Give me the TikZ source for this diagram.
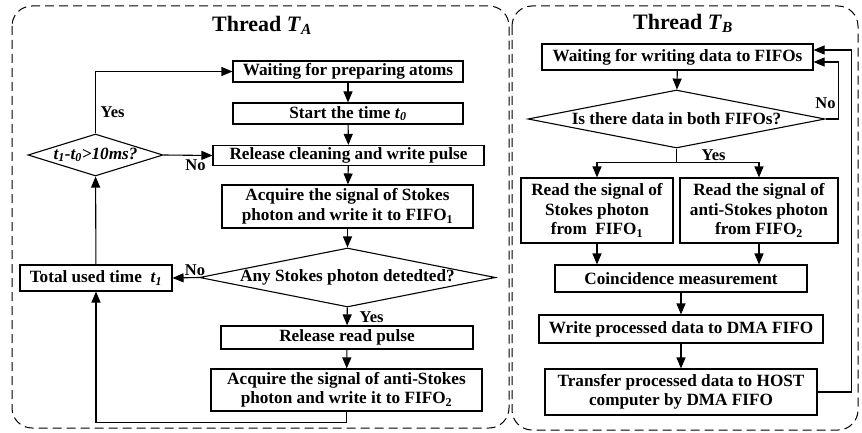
\documentclass[tikz,border=0pt]{standalone}
\usepackage{fontspec}
\setmainfont{Liberation Serif}
\usetikzlibrary{shapes.geometric,arrows.meta,calc}

\newcommand{\sub}[1]{\textsubscript{#1}}
\newcommand{\itsub}[2]{\textit{#1}\textsubscript{\itshape #2}}

\begin{document}
\begin{tikzpicture}[
    x=1pt,y=-1pt,
	box/.style={draw, line width=1.1pt, minimum height=#1, align=center, inner sep=0},
	box/.default=21pt,
	decision/.style={draw, line width=1.1pt, diamond, inner sep=0, aspect=5},
	lbl/.style={font=\bfseries\fontsize{16.5}{18}\selectfont, inner sep=1pt},
	thread/.style={draw, dash pattern=on 9pt off 5pt, line width=1pt, rounded corners=20pt},
	flow/.style={-{Triangle[length=11pt,width=9pt]}, line width=1.1pt},
	every node/.style={font=\bfseries\fontsize{17.2}{19.5}\selectfont}
]
\useasboundingbox (0,0) rectangle (862,433);

% the two threads
\draw[thread] (12,6) rectangle (509,428);
\draw[thread] (512,6) rectangle (858,430);
\node[font=\bfseries\fontsize{22}{24}\selectfont] (titleA) at (262,25) {Thread \itsub{T}{A}};
\node[font=\bfseries\fontsize{22}{24}\selectfont] (titleB) at (683,23) {Thread \itsub{T}{B}};

% thread A
\node[box, minimum width=230pt] (wait) at (348,71.5) {Waiting for preparing atoms};
\node[box, minimum width=230pt] (start) at (348,113.5) {Start the time \itsub{t}{0}};
\node[box=20pt, minimum width=271pt] (clean) at (348.5,155.5) {Release cleaning and write pulse};
\node[box=43pt, minimum width=251pt] (acqS) at (347.5,206.5) {Acquire the signal of Stokes\\photon and write it to FIFO\sub{1}};
\node[decision, minimum width=296pt, minimum height=59pt] (anyS) at (347.5,277.5) {\makebox[0pt]{Any Stokes photon detedted?}};
\node[box=23pt, minimum width=252pt] (read) at (347,337.5) {Release read pulse};
\node[box=42pt, minimum width=271pt] (acqAS) at (346.5,390) {Acquire the signal of anti-Stokes\\photon and write it to FIFO\sub{2}};
\node[box=26pt, minimum width=152pt] (total) at (96,278) {Total used time \ \itsub{t}{1}};
\node[decision, minimum width=135pt, minimum height=42pt] (tdiff) at (95.5,155) {\makebox[0pt]{\itshape\itsub{t}{1}-\itsub{t}{0}>10ms?}};

\draw[flow] (wait) -- (start);
\draw[flow] (start) -- (clean);
\draw[flow] (clean) -- (acqS);
\draw[flow] (acqS) -- (anyS);
\draw[flow] (anyS) -- (read);
\draw[flow] (read) -- (acqAS);
\draw[flow] (anyS.west) -- (total.east);
\draw[flow] (acqAS.south) -- ++(0,11) -| (total.south);
\draw[flow] (total) -- (tdiff);
\draw[flow] (tdiff.north) |- (wait.west);
\draw[flow] (tdiff.east) -- (clean.west);
\node[lbl, anchor=south] (noS) at ([xshift=-4pt,yshift=1pt]anyS.west) {No};
\node[lbl, anchor=west] (yesS) at ([xshift=11pt,yshift=-10pt]anyS.south) {Yes};
\node[lbl, anchor=west] (yesT) at ([xshift=4pt,yshift=21pt]tdiff.north) {Yes};
\node[lbl, anchor=north] (noT) at ([xshift=32pt,yshift=-3pt]tdiff.east) {No};

% thread B
\node[box=26pt, minimum width=271pt] (waitB) at (677.5,57) {Waiting for writing data to FIFOs};
\node[decision, minimum width=297pt, minimum height=58pt] (both) at (676.5,119) {\makebox[0pt]{Is there data in both FIFOs?}};
\node[box=65pt, minimum width=152pt] (rdS) at (597,210.5) {Read the signal of\\Stokes photon\\from \ FIFO\sub{1}};
\node[box=65pt, minimum width=158pt] (rdAS) at (759,210.5) {Read the signal of\\anti-Stokes photon\\from FIFO\sub{2}};
\node[box=27pt, minimum width=252pt] (coin) at (681,278.5) {Coincidence measurement};
\node[box=28pt, minimum width=284pt] (wdma) at (681,329) {Write processed data to DMA FIFO};
\node[box=46pt, minimum width=272pt] (host) at (681,392) {Transfer processed data to HOST\\computer by DMA FIFO};

\draw[flow] (waitB) -- (both);
\draw[flow] (both.east) -- ++(13,0) |- ([yshift=-5pt]waitB.east);
\draw[line width=1.1pt] (both.south) -- ++(0,14) coordinate (split);
\draw[flow] (split) -| (rdS.north);
\draw[flow] (split) -| (rdAS.north);
\draw[flow] (rdS.south) -- (rdS.south |- coin.north);
\draw[flow] (rdAS.south) -- (rdAS.south |- coin.north);
\draw[flow] (coin) -- (wdma);
\draw[flow] (wdma) -- (host);
\draw[flow] (host.east) -- ++(34,0) |- ([yshift=7pt]waitB.east);
\node[lbl, anchor=west] (yesB) at ([xshift=24pt,yshift=-7pt]both.south) {Yes};
\node[lbl] (noB) at ([yshift=16pt]both.east) {No};
\end{tikzpicture}
\end{document}
